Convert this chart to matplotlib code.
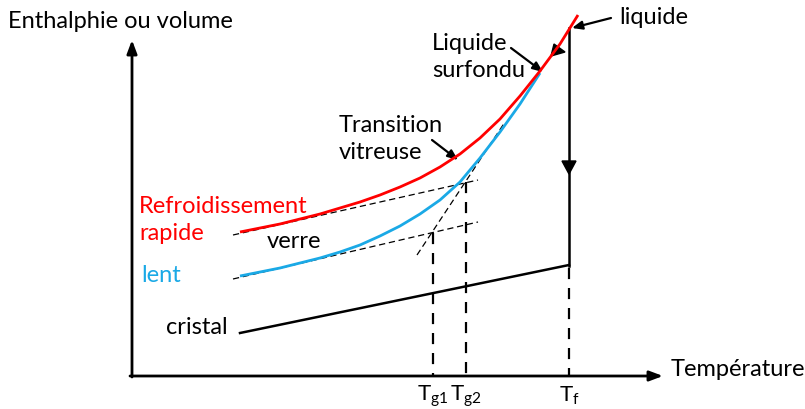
import matplotlib.pyplot as plt
from matplotlib.patches import Polygon

plt.rcParams['font.family'] = ['Lato', 'DejaVu Sans']

# curve points (pixel coords, y downward)
red_x = [240, 260, 280, 300, 320, 340, 360, 380, 400, 420, 440, 460, 480, 500, 520, 540, 560, 578]
red_y = [232, 228, 224, 219, 214, 208, 202, 195, 187, 178, 167, 154, 138, 119, 96, 71, 44, 15]

blue_x = [240, 260, 280, 300, 320, 340, 360, 380, 400, 420, 440, 460, 480, 500, 520, 540]
blue_y = [276, 272, 268, 263, 258, 252, 245, 236, 226, 214, 200, 182, 158, 132, 104, 73]

cristal_x = [240, 569]
cristal_y = [333, 265]

# tangents (dashed)
tan_fast_x = [233, 478]
tan_fast_y = [235, 180]
tan_slow_x = [233, 478]
tan_slow_y = [279, 222]
tan_liq_x = [417, 505]
tan_liq_y = [255, 122]

# temperatures
t_pos = [433, 466, 569]
t_top = [233, 182, 268]
t_main = ['T', 'T', 'T']
t_sub = ['g1', 'g2', 'f']

RED = '#ff0000'
BLUE = '#1aa9e6'

fig = plt.figure(figsize=(8.05, 4.09), dpi=100)
ax = fig.add_axes([0, 0, 1, 1])
ax.set_xlim(0, 805)
ax.set_ylim(409, 0)
ax.axis('off')

# axes arrows
ax.annotate('', xy=(132, 40), xytext=(132, 377),
            arrowprops=dict(arrowstyle='-|>,head_length=0.8,head_width=0.3', lw=2, color='black', shrinkA=0, shrinkB=0))
ax.annotate('', xy=(663, 376), xytext=(130, 376),
            arrowprops=dict(arrowstyle='-|>,head_length=0.8,head_width=0.3', lw=2, color='black', shrinkA=0, shrinkB=0))

# dashed helper lines
for xs, ys in [(tan_fast_x, tan_fast_y), (tan_slow_x, tan_slow_y), (tan_liq_x, tan_liq_y)]:
    ax.plot(xs, ys, color='black', lw=0.9, ls=(0, (5, 3)), zorder=3)
for x, top in zip(t_pos, t_top):
    ax.plot([x, x], [top, 376], color='black', lw=1.6, ls=(0, (5, 4)), zorder=2)

# curves
ax.plot(blue_x, blue_y, color=BLUE, lw=2, zorder=4, solid_capstyle='butt', solid_joinstyle='round')
ax.plot(red_x, red_y, color=RED, lw=2, zorder=5, solid_capstyle='butt', solid_joinstyle='round')
ax.plot(cristal_x, cristal_y, color='black', lw=1.8)

# solidification vertical
ax.plot([569, 569], [28, 266], color='black', lw=1.8)
ax.add_patch(Polygon([[562, 161], [576, 161], [569, 174]], closed=True, color='black'))
# arrow marker on red curve
ax.add_patch(Polygon([[554, 44], [565, 52], [551, 56]], closed=True, color='black'))

# label arrows
arr = dict(arrowstyle='-|>,head_length=0.6,head_width=0.25', lw=1.6, color='black', shrinkA=0, shrinkB=0)
ax.annotate('', xy=(572, 28), xytext=(611, 18), arrowprops=arr)
ax.annotate('', xy=(543, 72), xytext=(511, 48), arrowprops=arr)
ax.annotate('', xy=(458, 160), xytext=(432, 140), arrowprops=arr)

fs = 17
ax.text(8, 22, 'Enthalphie ou volume', fontsize=fs, va='center', ha='left')
ax.text(671, 370, 'Température', fontsize=fs, va='center', ha='left')
ax.text(619, 18, 'liquide', fontsize=fs, va='center', ha='left')
ax.text(432, 57, 'Liquide\nsurfondu', fontsize=fs, va='center', ha='left', linespacing=1.3)
ax.text(339, 139, 'Transition\nvitreuse', fontsize=fs, va='center', ha='left', linespacing=1.3)
ax.text(139, 220, 'Refroidissement\nrapide', fontsize=fs, va='center', ha='left', color=RED, linespacing=1.35)
ax.text(141, 276, 'lent', fontsize=fs, va='center', ha='left', color=BLUE)
ax.text(267, 241, 'verre', fontsize=fs, va='center', ha='left')
ax.text(166, 328, 'cristal', fontsize=fs, va='center', ha='left')

for x, m, s in zip(t_pos, t_main, t_sub):
    ax.text(x, 396, r'$\mathregular{%s_{%s}}$' % (m, s), fontsize=16, va='center', ha='center')

fig.savefig('out.png', dpi=100)
